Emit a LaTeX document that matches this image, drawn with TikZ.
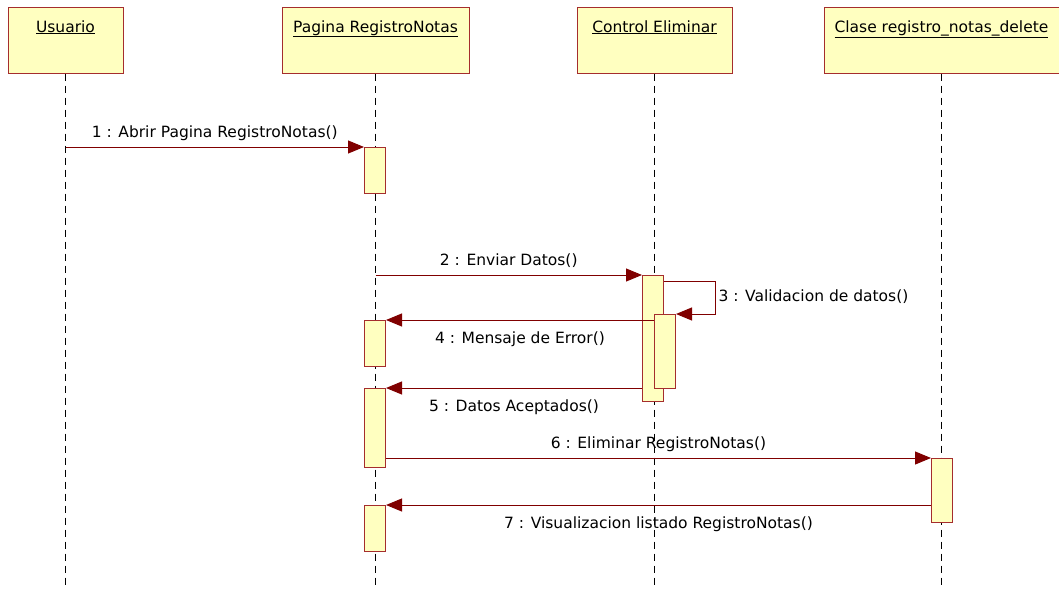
\documentclass[tikz,border=0pt]{standalone}
\usepackage{fontspec}
\setmainfont{DejaVu Sans}
\usetikzlibrary{arrows.meta,positioning,calc}
\definecolor{umlfill}{RGB}{255,255,192}
\definecolor{umlline}{RGB}{165,45,45}
\definecolor{msgred}{RGB}{128,0,0}
\tikzset{
  hdr/.style ={draw=umlline, fill=umlfill, line width=1pt, minimum height=66pt, inner ysep=7pt,
               text height=18pt, text depth=34pt, font=\fontsize{15.5}{18}\selectfont},
  act/.style ={draw=umlline, fill=umlfill, line width=1pt, minimum width=21pt, inner sep=0pt, anchor=north},
  life/.style ={draw=black, line width=1pt, dash pattern=on 7pt off 5pt},
  msg/.style  ={draw=msgred, line width=1pt, -{Triangle[length=16pt, width=13pt]}},
  lbl/.style  ={font=\fontsize{15.5}{18}\selectfont, inner sep=0pt, text height=11pt, text depth=3pt},
}
\begin{document}
\begin{tikzpicture}[x=1pt, y=-1pt]
\useasboundingbox (0,0) rectangle (1059,589);
\coordinate (bot) at (0,589);
\node[hdr, minimum width=115pt] (u) at (65.5,40) {\underline{Usuario}};
\node[hdr, minimum width=187pt] (p) at (375.5,40) {\underline{Pagina RegistroNotas}};
\node[hdr, minimum width=155pt] (c) at (654.5,40) {\underline{Control Eliminar}};
\node[hdr, minimum width=235pt] (k) at (941.5,40) {\underline{Clase registro\_notas\_delete}};
\draw[life] (u.south) -- (u.south |- bot);
\draw[life] (p.south) -- (p.south |- bot);
\draw[life] (c.south) -- (c.south |- bot);
\draw[life] (k.south) -- (k.south |- bot);
\node[act, minimum height=46pt] (a1) at (375,147) {};
\node[act, minimum height=126pt] (a2) at (653,275) {};
\node[act, minimum height=74pt] (a3) at (665,314) {};
\node[act, minimum height=46pt] (a4) at (375,320) {};
\node[act, minimum height=79pt] (a5) at (375,388) {};
\node[act, minimum height=64pt] (a6) at (942,458) {};
\node[act, minimum height=46pt] (a7) at (375,505) {};
\draw[msg] (u.south |- a1.north) -- node[lbl, above=6pt] {1 : Abrir Pagina RegistroNotas()} (a1.north west);
\draw[msg] (p.south |- a2.north) -- node[lbl, above=6pt] {2 : Enviar Datos()} (a2.north west);
\draw[msg] ([yshift=-6pt]a2.north east) -| node[lbl, pos=0.75, right=3pt] {3 : Validacion de datos()} ($(a3.north east)+(39,0)$) -- (a3.north east);
\draw[msg] (a3.west |- a4.north) -- node[lbl, below=12pt] {4 : Mensaje de Error()} (a4.north east);
\draw[msg] (a2.west |- a5.north) -- node[lbl, below=12pt] {5 : Datos Aceptados()} (a5.north east);
\draw[msg] (a5.east |- a6.north) -- node[lbl, above=6pt] {6 : Eliminar RegistroNotas()} (a6.north west);
\draw[msg] (a6.west |- a7.north) -- node[lbl, below=12pt] {7 : Visualizacion listado RegistroNotas()} (a7.north east);
\end{tikzpicture}
\end{document}
